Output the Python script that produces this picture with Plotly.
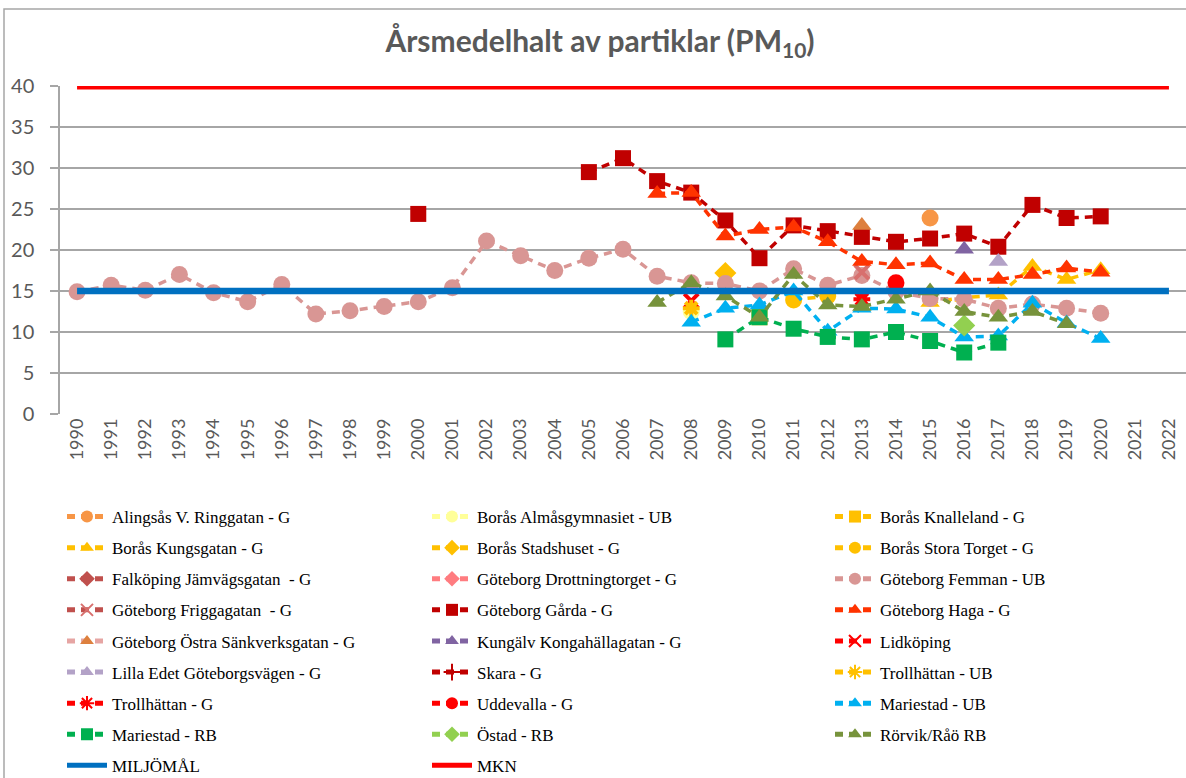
import plotly.graph_objects as go

years_all = list(range(1990, 2023))
tick_labels = [str(y) for y in years_all]

# ---- data (year lists and value lists; None = no measurement) ----
alingsas_x = [2015]; alingsas_y = [23.9]
almas_x = [2008]; almas_y = [12.5]
knalleland_x = [2010]; knalleland_y = [11.8]
kungsgatan_x = [2015, 2016, 2017, 2018, 2019, 2020]; kungsgatan_y = [13.6, 14.2, 14.5, 18.0, 16.4, 17.6]
stadshuset_x = [2009]; stadshuset_y = [17.2]
storatorget_x = [2011, 2012]; storatorget_y = [13.9, 14.4]
falkoping_x = []; falkoping_y = []
drottning_x = []; drottning_y = []
femman_x = list(range(1990, 2021))
femman_y = [14.9, 15.7, 15.1, 17.0, 14.8, 13.7, 15.8, 12.2, 12.6, 13.1,
            13.7, 15.4, 21.1, 19.3, 17.5, 19.0, 20.1, 16.8, 16.0, 15.9,
            15.0, 17.7, 15.7, 16.9, 14.9, 14.1, 14.0, 12.9, 13.4, 12.9, 12.3]
frigga_x = [2013]; frigga_y = [17.3]
garda_x = list(range(2000, 2021))
garda_y = [24.4, None, None, None, None, 29.5, 31.2, 28.4, 27.0, 23.6, 19.0,
           23.0, 22.3, 21.6, 21.0, 21.4, 22.0, 20.4, 25.5, 23.9, 24.1]
haga_x = list(range(2007, 2021))
haga_y = [26.9, 27.0, 21.7, 22.5, 22.8, 21.0, 18.6, 18.2, 18.4, 16.4, 16.4, 17.0, 17.8, 17.3]
ostra_x = [2013]; ostra_y = [23.0]
kungalv_x = [2016]; kungalv_y = [20.1]
lidkoping_x = [2008]; lidkoping_y = [13.8]
lillaedet_x = [2017]; lillaedet_y = [18.6]
skara_x = []; skara_y = []
trollub_x = [2008]; trollub_y = [12.9]
trollg_x = [2013]; trollg_y = [14.0]
uddevalla_x = [2014]; uddevalla_y = [16.0]
marub_x = list(range(2008, 2021))
marub_y = [11.2, 12.9, 13.3, 15.0, 10.1, 12.9, 12.8, 11.8, 9.4, 9.5, 13.5, 11.1, 9.2]
marrb_x = list(range(2009, 2018))
marrb_y = [9.1, 11.8, 10.4, 9.4, 9.1, 10.0, 8.9, 7.5, 8.7]
ostad_x = [2016]; ostad_y = [10.8]
rorvik_x = list(range(2007, 2020))
rorvik_y = [13.6, 16.0, 14.4, 11.8, 17.0, 13.3, 13.1, 14.0, 15.0, 12.5, 11.8, 12.5, 11.0]
miljomal_x = [1990, 2022]; miljomal_y = [15, 15]
mkn_x = [1990, 2022]; mkn_y = [40, 40]

# name, x, y, line colour, marker colour, symbol, legend column
series = [
    ("Alingsås V. Ringgatan - G", alingsas_x, alingsas_y, "#F79646", "#F79646", "circle", 1),
    ("Borås Almåsgymnasiet - UB", almas_x, almas_y, "#FFFF99", "#FFFF99", "circle", 2),
    ("Borås Knalleland - G", knalleland_x, knalleland_y, "#FFC000", "#FFC000", "square", 3),
    ("Borås Kungsgatan - G", kungsgatan_x, kungsgatan_y, "#FFC000", "#FFC000", "triangle-up", 1),
    ("Borås Stadshuset - G", stadshuset_x, stadshuset_y, "#FFC000", "#FFC000", "diamond", 2),
    ("Borås Stora Torget - G", storatorget_x, storatorget_y, "#FFC000", "#FFC000", "circle", 3),
    ("Falköping Jämvägsgatan  - G", falkoping_x, falkoping_y, "#C0504D", "#C0504D", "diamond", 1),
    ("Göteborg Drottningtorget - G", drottning_x, drottning_y, "#FF7C80", "#FF7C80", "diamond", 2),
    ("Göteborg Femman - UB", femman_x, femman_y, "#D99694", "#D99694", "circle", 3),
    ("Göteborg Friggagatan  - G", frigga_x, frigga_y, "#C0504D", "#D8706E", "x", 1),
    ("Göteborg Gårda - G", garda_x, garda_y, "#C00000", "#C00000", "square", 2),
    ("Göteborg Haga - G", haga_x, haga_y, "#FF3300", "#FF3300", "triangle-up", 3),
    ("Göteborg Östra Sänkverksgatan - G", ostra_x, ostra_y, "#E6A5A3", "#DD803E", "triangle-up", 1),
    ("Kungälv Kongahällagatan - G", kungalv_x, kungalv_y, "#8064A2", "#8064A2", "triangle-up", 2),
    ("Lidköping", lidkoping_x, lidkoping_y, "#FF0000", "#FF0000", "x", 3),
    ("Lilla Edet Göteborgsvägen - G", lillaedet_x, lillaedet_y, "#B3A2C7", "#B3A2C7", "triangle-up", 1),
    ("Skara - G", skara_x, skara_y, "#C00000", "#C00000", "cross", 2),
    ("Trollhättan - UB", trollub_x, trollub_y, "#FFC000", "#FFC000", "asterisk", 3),
    ("Trollhättan - G", trollg_x, trollg_y, "#FF0000", "#FF0000", "asterisk", 1),
    ("Uddevalla - G", uddevalla_x, uddevalla_y, "#FF0000", "#FF0000", "circle", 2),
    ("Mariestad - UB", marub_x, marub_y, "#00B0F0", "#00B0F0", "triangle-up", 3),
    ("Mariestad - RB", marrb_x, marrb_y, "#00B050", "#00B050", "square", 1),
    ("Östad - RB", ostad_x, ostad_y, "#92D050", "#92D050", "diamond", 2),
    ("Rörvik/Råö RB", rorvik_x, rorvik_y, "#77933C", "#77933C", "triangle-up", 3),
]

fig = go.Figure()
legend_ids = {1: "legend", 2: "legend2", 3: "legend3"}
for i, (name, xs, ys, lc, mc, sym, col) in enumerate(series):
    marker = dict(symbol=sym, size=17, color=mc, line=dict(color=mc, width=0))
    if sym == "x":
        marker = dict(symbol="x-thin", size=14, color=mc, line=dict(color=mc, width=4))
    if sym == "asterisk":
        marker = dict(symbol="asterisk", size=14, color=mc, line=dict(color=mc, width=4))
    if sym == "cross":
        marker = dict(symbol="cross-thin", size=14, color=mc, line=dict(color=mc, width=4))
    if sym == "square":
        marker["size"] = 16
    fig.add_trace(go.Scatter(
        x=xs if xs else [None], y=ys if ys else [None], name=name, mode="lines+markers",
        line=dict(color=lc, width=3.5, dash="8px,6px"),
        marker=marker, legend=legend_ids[col], legendgroup=f"g{i}",
        connectgaps=False, cliponaxis=False,
    ))

fig.add_trace(go.Scatter(x=miljomal_x, y=miljomal_y, name="MILJÖMÅL", mode="lines",
                         line=dict(color="#0070C0", width=6.5), legend="legend", legendgroup="g_m",
                         cliponaxis=False))
fig.add_trace(go.Scatter(x=mkn_x, y=mkn_y, name="MKN", mode="lines",
                         line=dict(color="#FF0000", width=7), legend="legend2", legendgroup="g_k",
                         cliponaxis=False))

# plot area: x 60..1186 px, y 86..414 px
W, H = 1186, 778
L, R, T, B = 60, 0, 86, 364
pw, ph = W - L - R, H - T - B

def px_x(p):
    return (p - L) / pw

def px_y(p):
    return (H - B - p) / ph

legend_font = dict(family="Liberation Serif", size=17, color="#000000")
leg_common = dict(orientation="v", xanchor="left", yanchor="top", font=legend_font,
                  bgcolor="rgba(0,0,0,0)", itemwidth=40, tracegroupgap=6,
                  itemclick=False, itemdoubleclick=False, itemsizing="constant")

fig.update_layout(
    width=W, height=H,
    margin=dict(l=L, r=R, t=T, b=B, autoexpand=False),
    plot_bgcolor="white", paper_bgcolor="white",
    title=dict(text="<b>Årsmedelhalt av partiklar (PM<sub>10</sub>)</b>",
               x=600 / W, xref="container", xanchor="center",
               y=1 - 41 / H, yref="container", yanchor="middle",
               font=dict(family="Lato", size=30, color="#595959")),
    xaxis=dict(range=[1989.5, 2022.5], tickmode="array", tickvals=years_all, ticktext=tick_labels,
               tickangle=-90, showgrid=False, zeroline=False, showline=False,
               tickfont=dict(family="Lato", size=18, color="#595959"), ticks=""),
    yaxis=dict(range=[0, 40], dtick=5, showgrid=True, gridcolor="#A6A6A6", gridwidth=1.5,
               zeroline=False, showline=True, linecolor="#A6A6A6", linewidth=1.5,
               ticks="outside", ticklen=8, tickcolor="#A6A6A6", tickwidth=1.5,
               ticklabelstandoff=12,
               tickfont=dict(family="Lato", size=20, color="#595959")),
    legend=dict(x=px_x(62), y=px_y(499), **leg_common),
    legend2=dict(x=px_x(427), y=px_y(499), **leg_common),
    legend3=dict(x=px_x(830), y=px_y(499), **leg_common),
    showlegend=True,
    hovermode=False,
    shapes=[dict(type="rect", xref="paper", yref="paper",
                 x0=px_x(4), x1=px_x(1200), y0=px_y(790), y1=px_y(9),
                 line=dict(color="#A6A6A6", width=1.5), fillcolor="rgba(0,0,0,0)", layer="below")],
)

fig.write_html("out.html", config={"displayModeBar": False},
               post_script="document.body.style.margin='0px';document.body.style.overflow='hidden';")
